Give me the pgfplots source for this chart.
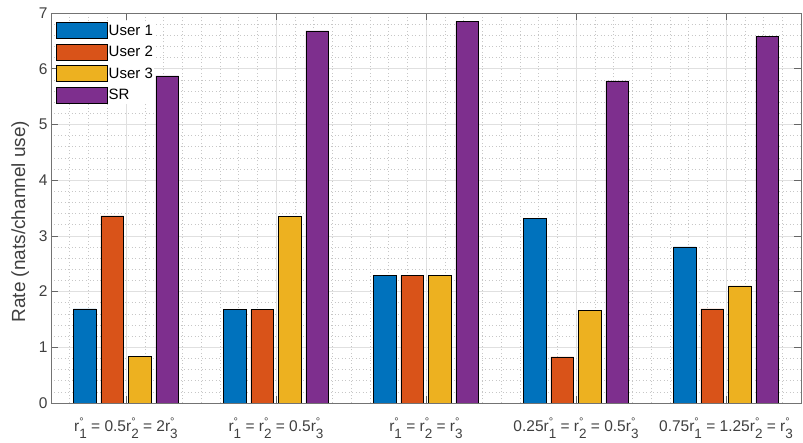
\documentclass[border=0pt]{standalone}
\usepackage{pgfplots}
\pgfplotsset{compat=1.18}
\usepackage{fontspec}
\setmainfont{Liberation Sans}
\definecolor{c1}{RGB}{0,114,189}
\definecolor{c2}{RGB}{217,83,25}
\definecolor{c3}{RGB}{237,177,32}
\definecolor{c4}{RGB}{126,47,142}
\newcommand{\ro}[1]{r\rlap{\raisebox{6.5pt}{\fontsize{11}{11}\selectfont °}}\raisebox{-7pt}{\fontsize{13.5}{13.5}\selectfont #1}}
\pgfplotsset{
  mybar/.style={draw=black, line width=0.5pt, fill=#1,
    legend image code/.code={\draw[draw=black, line width=0.5pt, fill=#1] (0pt,-8pt) rectangle (51pt,8pt);}}
}
\begin{document}
\begin{tikzpicture}
\useasboundingbox (-51pt,-40pt) rectangle (752pt,403pt);
\begin{axis}[
  scale only axis, width=750pt, height=390pt,
  xmin=0.5, xmax=5.5, ymin=0, ymax=7,
  ybar, bar width=0.153,
  xtick={1,2,3,4,5},
  xticklabels={
    {\ro{1} = 0.5\ro{2} = 2\ro{3}},
    {\ro{1} = \ro{2} = 0.5\ro{3}},
    {\ro{1} = \ro{2} = \ro{3}},
    {0.25\ro{1} = \ro{2} = 0.5\ro{3}},
    {0.75\ro{1} = 1.25\ro{2} = \ro{3}}},
  ytick={0,1,2,3,4,5,6,7},
  minor xtick={0.625,0.75,0.875,1.125,1.25,1.375,1.5,1.625,1.75,1.875,2.125,2.25,2.375,2.5,2.625,2.75,2.875,3.125,3.25,3.375,3.5,3.625,3.75,3.875,4.125,4.25,4.375,4.5,4.625,4.75,4.875,5.125,5.25,5.375},
  minor y tick num=4,
  grid=both,
  major grid style={line width=0.5pt, color=black!12},
  minor grid style={line width=0.5pt, dash pattern=on 1pt off 2.5pt, color=black!22},
  tick align=inside, major tick length=7pt, minor tick length=0pt,
  axis line style={color=black!55, line width=0.6pt},
  major tick style={color=black!60, line width=0.6pt},
  tick label style={font=\fontsize{15.5}{18}\selectfont, text=black!75},
  /pgf/number format/assume math mode=true,
  xticklabel style={anchor=base, yshift=-29pt},
  ylabel={Rate (nats/channel use)},
  every axis y label/.style={at={(axis description cs:-0.041,0.465)}, rotate=90, anchor=center, font=\fontsize{19}{20}\selectfont, text=black!75},
  legend style={at={(axis description cs:0.006,0.979)}, anchor=north west, draw=none, fill=white,
    font=\fontsize{15}{18}\selectfont, row sep=5pt, inner xsep=0.5pt, inner ysep=1pt,
    nodes={inner xsep=1pt},
    cells={anchor=west}},
  legend cell align=left,
]
\addplot[mybar=c1, bar shift=-0.275] coordinates {(1,1.69) (2,1.68) (3,2.29) (4,3.31) (5,2.80)};
\addplot[mybar=c2, bar shift=-0.0917] coordinates {(1,3.36) (2,1.68) (3,2.29) (4,0.83) (5,1.69)};
\addplot[mybar=c3, bar shift=0.0917] coordinates {(1,0.84) (2,3.35) (3,2.29) (4,1.66) (5,2.10)};
\addplot[mybar=c4, bar shift=0.275] coordinates {(1,5.87) (2,6.68) (3,6.85) (4,5.78) (5,6.58)};
\legend{User 1, User 2, User 3, SR}
\end{axis}
\end{tikzpicture}
\end{document}
